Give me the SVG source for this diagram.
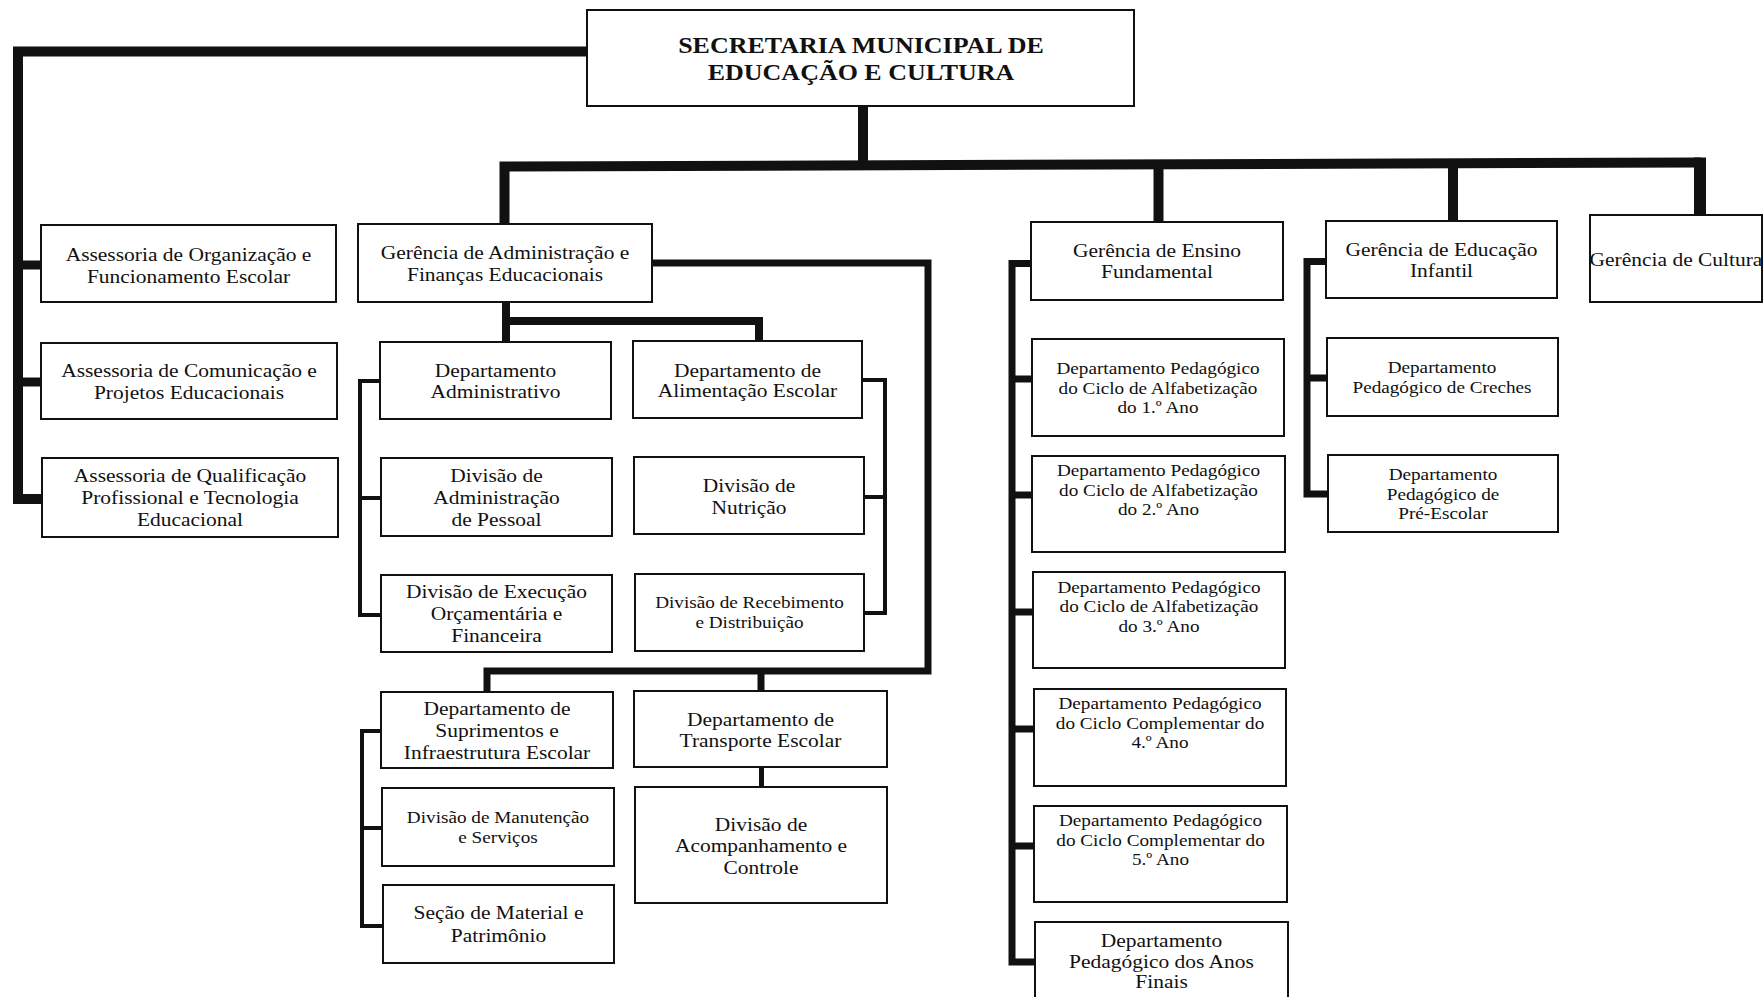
<svg xmlns="http://www.w3.org/2000/svg" width="1764" height="997" viewBox="0 0 1764 997">
  <style>
    .box { fill: #fff; stroke: #111; stroke-width: 2; }
    .t { font-family: "Liberation Serif", "Times New Roman", serif; font-size: 19px; text-anchor: middle; fill: #111; }
    .s { font-size: 17px; }
    .b { font-size: 23px; font-weight: bold; }
    .w { fill: none; stroke: #111; stroke-linecap: butt; stroke-linejoin: miter; }
    .w12 { stroke-width: 12; }
    .w10 { stroke-width: 10; }
    .w9 { stroke-width: 9; }
    .w8 { stroke-width: 8; }
    .w7 { stroke-width: 7; }
    .w5 { stroke-width: 5; }
    .w4 { stroke-width: 4; }
  </style>
  <rect width="1764" height="997" fill="#fff"/>

  <g id="connectors">
    <!-- Secretaria to the advisory units -->
    <path class="w w10" d="M587 51.5 H18 V499 H42"/>
    <path class="w w9" d="M18 265 H42 M18 382 H42"/>
    <!-- main bus to the managements (drawn with a slight slope) -->
    <path class="w w10" d="M504.5 229 V166.5 L1701 162.5"/>
    <path class="w w12" d="M1700 157.5 V215"/>
    <path class="w w10" d="M863 106 V166 M1158.5 165 V222 M1453 164 V221"/>
    <!-- Gerência de Administração: departments -->
    <path class="w w8" d="M506 302 V342 M506 321 H759 V341"/>
    <path class="w w7" d="M652 263 H928 V671 H487 V692 M761 671 V691"/>
    <!-- department brackets -->
    <path class="w w4" d="M380 381 H360 V615 H381 M360 498 H381"/>
    <path class="w w4" d="M862 380 H885 V613 H864 M885 497 H864"/>
    <path class="w w4" d="M381 731 H362 V926 H383 M362 828 H382"/>
    <path class="w w5" d="M761.5 767 V787"/>
    <!-- Ensino Fundamental -->
    <path class="w w7" d="M1031 263.5 H1012 V962 H1035"/>
    <path class="w w7" d="M1012 379 H1032 M1012 495 H1032 M1012 612 H1033 M1012 729 H1034 M1012 846 H1034"/>
    <!-- Educação Infantil -->
    <path class="w w7" d="M1326 261.5 H1307 V494 H1328 M1307 378 H1327"/>
  </g>

  <g id="secretaria">
    <rect class="box" x="587" y="10" width="547" height="96"/>
    <text class="t b" transform="matrix(1.13 0 0 1 861 0)"><tspan x="0" y="53">SECRETARIA MUNICIPAL DE</tspan><tspan x="0" y="80">EDUCAÇÃO E CULTURA</tspan></text>
  </g>

  <g id="assessoria-organizacao">
    <rect class="box" x="41" y="225" width="295" height="77"/>
    <text class="t" transform="matrix(1.13 0 0 1 188.5 0)"><tspan x="0" y="261">Assessoria de Organização e</tspan><tspan x="0" y="283">Funcionamento Escolar</tspan></text>
  </g>
  <g id="assessoria-comunicacao">
    <rect class="box" x="41" y="343" width="296" height="76"/>
    <text class="t" transform="matrix(1.13 0 0 1 189 0)"><tspan x="0" y="377">Assessoria de Comunicação e</tspan><tspan x="0" y="399">Projetos Educacionais</tspan></text>
  </g>
  <g id="assessoria-qualificacao">
    <rect class="box" x="42" y="458" width="296" height="79"/>
    <text class="t" transform="matrix(1.13 0 0 1 190 0)"><tspan x="0" y="482">Assessoria de Qualificação</tspan><tspan x="0" y="504">Profissional e Tecnologia</tspan><tspan x="0" y="526">Educacional</tspan></text>
  </g>

  <g id="gerencia-administracao">
    <rect class="box" x="358" y="224" width="294" height="78"/>
    <text class="t" transform="matrix(1.13 0 0 1 505 0)"><tspan x="0" y="259.5">Gerência de Administração e</tspan><tspan x="0" y="281.5">Finanças Educacionais</tspan></text>
  </g>
  <g id="dep-administrativo">
    <rect class="box" x="380" y="342" width="231" height="77"/>
    <text class="t" transform="matrix(1.13 0 0 1 495.5 0)"><tspan x="0" y="377">Departamento</tspan><tspan x="0" y="398">Administrativo</tspan></text>
  </g>
  <g id="dep-alimentacao">
    <rect class="box" x="633" y="341" width="229" height="77"/>
    <text class="t" transform="matrix(1.13 0 0 1 747.5 0)"><tspan x="0" y="377">Departamento de</tspan><tspan x="0" y="397.5">Alimentação Escolar</tspan></text>
  </g>
  <g id="div-pessoal">
    <rect class="box" x="381" y="458" width="231" height="78"/>
    <text class="t" transform="matrix(1.13 0 0 1 496.5 0)"><tspan x="0" y="482">Divisão de</tspan><tspan x="0" y="504">Administração</tspan><tspan x="0" y="526">de Pessoal</tspan></text>
  </g>
  <g id="div-nutricao">
    <rect class="box" x="634" y="457" width="230" height="77"/>
    <text class="t" transform="matrix(1.13 0 0 1 749 0)"><tspan x="0" y="492">Divisão de</tspan><tspan x="0" y="514">Nutrição</tspan></text>
  </g>
  <g id="div-execucao">
    <rect class="box" x="381" y="575" width="231" height="77"/>
    <text class="t" transform="matrix(1.13 0 0 1 496.5 0)"><tspan x="0" y="598">Divisão de Execução</tspan><tspan x="0" y="620">Orçamentária e</tspan><tspan x="0" y="642">Financeira</tspan></text>
  </g>
  <g id="div-recebimento">
    <rect class="box" x="635" y="574" width="229" height="77"/>
    <text class="t s" transform="matrix(1.13 0 0 1 749.5 0)"><tspan x="0" y="608">Divisão de Recebimento</tspan><tspan x="0" y="628">e Distribuição</tspan></text>
  </g>
  <g id="dep-suprimentos">
    <rect class="box" x="381" y="692" width="232" height="76"/>
    <text class="t" transform="matrix(1.13 0 0 1 497 0)"><tspan x="0" y="715">Departamento de</tspan><tspan x="0" y="737">Suprimentos e</tspan><tspan x="0" y="759">Infraestrutura Escolar</tspan></text>
  </g>
  <g id="dep-transporte">
    <rect class="box" x="634" y="691" width="253" height="76"/>
    <text class="t" transform="matrix(1.13 0 0 1 760.5 0)"><tspan x="0" y="726">Departamento de</tspan><tspan x="0" y="747">Transporte Escolar</tspan></text>
  </g>
  <g id="div-manutencao">
    <rect class="box" x="382" y="788" width="232" height="78"/>
    <text class="t s" transform="matrix(1.13 0 0 1 498 0)"><tspan x="0" y="823">Divisão de Manutenção</tspan><tspan x="0" y="843">e Serviços</tspan></text>
  </g>
  <g id="div-acompanhamento">
    <rect class="box" x="635" y="787" width="252" height="116"/>
    <text class="t" transform="matrix(1.13 0 0 1 761 0)"><tspan x="0" y="831">Divisão de</tspan><tspan x="0" y="852">Acompanhamento e</tspan><tspan x="0" y="874">Controle</tspan></text>
  </g>
  <g id="secao-material">
    <rect class="box" x="383" y="885" width="231" height="78"/>
    <text class="t" transform="matrix(1.13 0 0 1 498.5 0)"><tspan x="0" y="919">Seção de Material e</tspan><tspan x="0" y="942">Patrimônio</tspan></text>
  </g>

  <g id="gerencia-ensino">
    <rect class="box" x="1031" y="222" width="252" height="78"/>
    <text class="t" transform="matrix(1.13 0 0 1 1157 0)"><tspan x="0" y="257">Gerência de Ensino</tspan><tspan x="0" y="278.5">Fundamental</tspan></text>
  </g>
  <g id="dep-alfabetizacao-1">
    <rect class="box" x="1032" y="339" width="252" height="97"/>
    <text class="t s" transform="matrix(1.13 0 0 1 1158 0)"><tspan x="0" y="374">Departamento Pedagógico</tspan><tspan x="0" y="394">do Ciclo de Alfabetização</tspan><tspan x="0" y="413.5">do 1.º Ano</tspan></text>
  </g>
  <g id="dep-alfabetizacao-2">
    <rect class="box" x="1032" y="456" width="253" height="96"/>
    <text class="t s" transform="matrix(1.13 0 0 1 1158.5 0)"><tspan x="0" y="476">Departamento Pedagógico</tspan><tspan x="0" y="496">do Ciclo de Alfabetização</tspan><tspan x="0" y="515">do 2.º Ano</tspan></text>
  </g>
  <g id="dep-alfabetizacao-3">
    <rect class="box" x="1033" y="572" width="252" height="96"/>
    <text class="t s" transform="matrix(1.13 0 0 1 1159 0)"><tspan x="0" y="593">Departamento Pedagógico</tspan><tspan x="0" y="612.5">do Ciclo de Alfabetização</tspan><tspan x="0" y="632">do 3.º Ano</tspan></text>
  </g>
  <g id="dep-complementar-4">
    <rect class="box" x="1034" y="689" width="252" height="97"/>
    <text class="t s" transform="matrix(1.13 0 0 1 1160 0)"><tspan x="0" y="709">Departamento Pedagógico</tspan><tspan x="0" y="729">do Ciclo Complementar do</tspan><tspan x="0" y="748.5">4.º Ano</tspan></text>
  </g>
  <g id="dep-complementar-5">
    <rect class="box" x="1034" y="806" width="253" height="96"/>
    <text class="t s" transform="matrix(1.13 0 0 1 1160.5 0)"><tspan x="0" y="826">Departamento Pedagógico</tspan><tspan x="0" y="846">do Ciclo Complementar do</tspan><tspan x="0" y="865">5.º Ano</tspan></text>
  </g>
  <g id="dep-anos-finais">
    <rect class="box" x="1035" y="922" width="253" height="80"/>
    <text class="t" transform="matrix(1.13 0 0 1 1161.5 0)"><tspan x="0" y="947">Departamento</tspan><tspan x="0" y="968">Pedagógico dos Anos</tspan><tspan x="0" y="988.5">Finais</tspan></text>
  </g>

  <g id="gerencia-infantil">
    <rect class="box" x="1326" y="221" width="231" height="77"/>
    <text class="t" transform="matrix(1.13 0 0 1 1441.5 0)"><tspan x="0" y="256">Gerência de Educação</tspan><tspan x="0" y="277.5">Infantil</tspan></text>
  </g>
  <g id="dep-creches">
    <rect class="box" x="1327" y="338" width="231" height="78"/>
    <text class="t s" transform="matrix(1.13 0 0 1 1442 0)"><tspan x="0" y="373.5">Departamento</tspan><tspan x="0" y="393">Pedagógico de Creches</tspan></text>
  </g>
  <g id="dep-pre-escolar">
    <rect class="box" x="1328" y="455" width="230" height="77"/>
    <text class="t s" transform="matrix(1.13 0 0 1 1443 0)"><tspan x="0" y="480">Departamento</tspan><tspan x="0" y="500">Pedagógico de</tspan><tspan x="0" y="519.5">Pré-Escolar</tspan></text>
  </g>

  <g id="gerencia-cultura">
    <rect class="box" x="1590" y="215" width="172" height="87"/>
    <text class="t" transform="matrix(1.13 0 0 1 1676 0)"><tspan x="0" y="266.5">Gerência de Cultura</tspan></text>
  </g>
</svg>
